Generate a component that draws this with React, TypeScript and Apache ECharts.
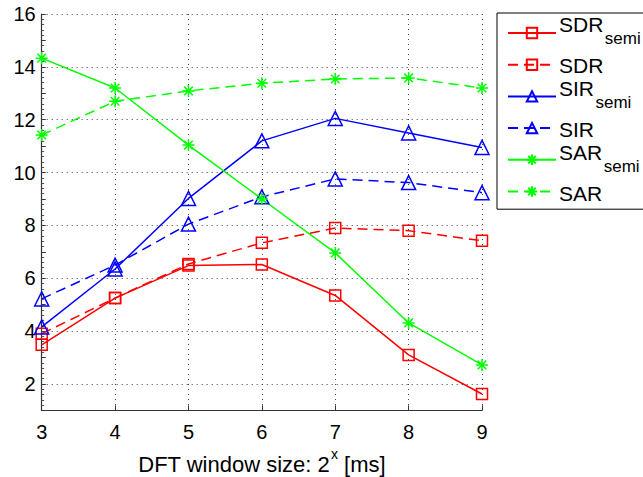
import React, { useEffect, useRef } from "react";
import * as echarts from "echarts";

const xValues = [3, 4, 5, 6, 7, 8, 9];
const sdrSemi = [3.48, 5.25, 6.48, 6.52, 5.35, 3.1, 1.62];
const sdr = [3.9, 5.25, 6.54, 7.34, 7.9, 7.8, 7.42];
const sirSemi = [4.16, 6.35, 9.02, 11.2, 12.05, 11.5, 10.95];
const sir = [5.22, 6.5, 8.05, 9.08, 9.76, 9.62, 9.24];
const sarSemi = [14.33, 13.2, 11.04, 9.0, 6.96, 4.31, 2.72];
const sar = [11.42, 12.7, 13.09, 13.38, 13.54, 13.58, 13.2];
const yGridValues = [2, 4, 6, 8, 10, 12, 14, 16];
const legendNames = ["SDR_semi", "SDR", "SIR_semi", "SIR", "SAR_semi", "SAR"];

const FONT = "Liberation Sans";
const STAR = "path://M0,-6L0,6M-6,0L6,0M-4.3,-4.3L4.3,4.3M-4.3,4.3L4.3,-4.3";

const toPairs = (ys: number[]) => ys.map((y, i) => [xValues[i], y]);

function mkSeries(
  name: string,
  ys: number[],
  color: string,
  dashed: boolean,
  symbol: string,
  symbolSize: number
) {
  return {
    name,
    type: "line",
    data: toPairs(ys),
    symbol,
    symbolSize,
    color,
    z: 3,
    lineStyle: { color, width: 1.5, type: dashed ? [10, 6] : "solid" },
    itemStyle: { color: "rgba(0,0,0,0)", borderColor: color, borderWidth: 1.5 },
  };
}

// legend label texts (drawn as real text next to the legend icons)
const LEG_TOP = 33;
const LEG_STEP = 32;
const LEG_TEXT_X = 559;
const mainFont = 21;
const subFont = 17;

function legendTexts() {
  const out: any[] = [];
  legendNames.forEach((name, i) => {
    const y = LEG_TOP + i * LEG_STEP;
    const semi = name.endsWith("_semi");
    const base = semi ? name.replace("_semi", "") : name;
    out.push({
      type: "text",
      x: LEG_TEXT_X,
      y: semi ? y - 9 : y,
      silent: true,
      z: 10,
      style: {
        text: base,
        font: `${mainFont}px "${FONT}"`,
        fill: "#000",
        verticalAlign: "middle",
        align: "left",
      },
    });
    if (semi) {
      const w = echarts.format.getTextRect
        ? (echarts.format as any).getTextRect(base, `${mainFont}px "${FONT}"`).width
        : base.length * 14;
      out.push({
        type: "text",
        x: LEG_TEXT_X + w + 1.5,
        y: y + 5,
        silent: true,
        z: 10,
        style: {
          text: "semi",
          font: `${subFont}px "${FONT}"`,
          fill: "#000",
          verticalAlign: "middle",
          align: "left",
        },
      });
    }
  });
  return out;
}

export default function App() {
  const ref = useRef<HTMLDivElement>(null);
  useEffect(() => {
    if (!ref.current) return;
    const chart = echarts.init(ref.current, null, { renderer: "svg" });
    chart.setOption({
      animation: false,
      backgroundColor: "#ffffff",
      textStyle: { fontFamily: FONT, color: "#000" },
      grid: {
        left: 41.7,
        right: 161,
        top: 14,
        bottom: 66.6,
        containLabel: false,
        outerBoundsMode: "none",
      },
      legend: {
        data: legendNames,
        orient: "vertical",
        left: 497,
        top: 13,
        itemWidth: 48,
        itemHeight: 13,
        itemGap: 19,
        padding: [13.5, 200, 11.5, 10],
        backgroundColor: "#fff",
        borderColor: "#000",
        borderWidth: 1,
        borderRadius: 0,
        selectedMode: false,
        formatter: () => "",
        textStyle: { fontSize: 1 },
      },
      graphic: legendTexts(),
      xAxis: {
        type: "value",
        min: 3,
        max: 9,
        interval: 1,
        name: "{a|DFT window size: 2}{b|x}{a| [ms]}",
        nameLocation: "middle",
        nameGap: 34,
        nameTextStyle: {
          rich: {
            a: { fontSize: 22, fontFamily: FONT, color: "#000", lineHeight: 34 },
            b: {
              fontSize: 14,
              fontFamily: FONT,
              color: "#000",
              lineHeight: 14,
              verticalAlign: "top",
              padding: [0, 0, 0, 1],
            },
          },
        },
        axisLine: { show: true, lineStyle: { color: "#333", width: 1.2 } },
        axisTick: { show: true, inside: true, length: 5, lineStyle: { color: "#333" } },
        axisLabel: { fontSize: 20, fontFamily: FONT, color: "#000", margin: 12 },
        splitLine: {
          show: true,
          lineStyle: { type: [1, 4], color: "#444", width: 1 },
        },
      },
      yAxis: {
        type: "value",
        min: 1,
        max: 16,
        interval: 1,
        axisLine: { show: true, lineStyle: { color: "#333", width: 1.2 } },
        axisTick: { show: true, inside: true, length: 4, lineStyle: { color: "#333" } },
        minorTick: { show: true, splitNumber: 5, length: 2.5, lineStyle: { color: "#555" } },
        axisLabel: {
          fontSize: 20,
          fontFamily: FONT,
          color: "#000",
          margin: 6,
          formatter: (v: number) => (v % 2 === 0 ? String(v) : ""),
        },
        splitLine: { show: false },
      },
      series: [
        {
          name: "grid",
          type: "line",
          data: [],
          z: 1,
          silent: true,
          markLine: {
            silent: true,
            symbol: ["none", "none"],
            label: { show: false },
            lineStyle: { type: [1, 4], color: "#444", width: 1 },
            data: yGridValues.map((v) => ({ yAxis: v })),
          },
        },
        mkSeries("SDR_semi", sdrSemi, "#ff0000", false, "rect", 11),
        mkSeries("SDR", sdr, "#ff0000", true, "rect", 11),
        mkSeries("SIR_semi", sirSemi, "#0000ff", false, "triangle", 14),
        mkSeries("SIR", sir, "#0000ff", true, "triangle", 14),
        mkSeries("SAR_semi", sarSemi, "#00ff00", false, STAR, 12),
        mkSeries("SAR", sar, "#00ff00", true, STAR, 12),
      ],
    });
    return () => chart.dispose();
  }, []);
  return (
    <div
      ref={ref}
      style={{ position: "fixed", left: 0, top: 0, width: 643, height: 477 }}
    />
  );
}
